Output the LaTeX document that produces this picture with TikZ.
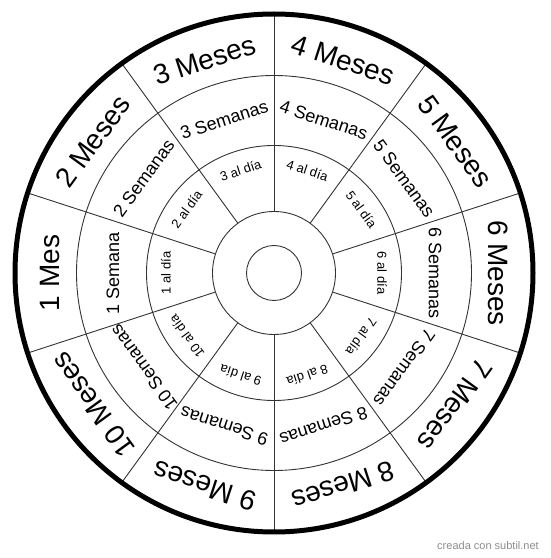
\documentclass[tikz,border=0pt]{standalone}
\usepackage{fontspec}
\setmainfont{Liberation Sans}
\begin{document}
\begin{tikzpicture}[x=1pt,y=1pt,
  ring/.style={draw=black!80, line width=0.9pt},
  spoke/.style={draw=black!80, line width=0.9pt},
  rim/.style={draw=black, line width=5pt},
  mlabel/.style={font=\fontsize{28}{30}\selectfont, inner sep=0pt, anchor=center},
  slabel/.style={font=\fontsize{18}{20}\selectfont, inner sep=0pt, anchor=center},
  dlabel/.style={font=\fontsize{13}{15}\selectfont, inner sep=0pt, anchor=center},
  mark label/.style={font=\fontsize{11}{13}\selectfont, text=black!45, inner sep=0pt}]
\useasboundingbox (0,0) rectangle (550,558);
\coordinate (C) at (274,285);
\begin{scope}[shift={(C)}]
  \foreach \r in {27.5,61.5,127.5,197.5}
    \draw[ring] (0,0) circle[radius=\r pt];
  \foreach \j in {0,...,9}
    \draw[spoke] ({90+36*\j}:61.5pt) -- ({90+36*\j}:259pt);
  \draw[rim] (0,0) circle[radius=259pt];
  \foreach \k/\m/\s in {1/Mes/Semana,2/Meses/Semanas,3/Meses/Semanas,4/Meses/Semanas,5/Meses/Semanas,6/Meses/Semanas,7/Meses/Semanas,8/Meses/Semanas,9/Meses/Semanas,10/Meses/Semanas}{
    \pgfmathsetmacro{\a}{180-36*(\k-1)}
    \node[mlabel, rotate=\a-90] (m\k) at (\a:224pt) {\k\ \m};
    \node[slabel, rotate=\a-90] (s\k) at (\a:161pt) {\k\ \s};
    \node[dlabel, rotate=\a-90] (d\k) at (\a:108pt) {\k\ al día};
  }
\end{scope}
\node[mark label] (wm) at (488,12) {creada con subtil.net};
\end{tikzpicture}
\end{document}
